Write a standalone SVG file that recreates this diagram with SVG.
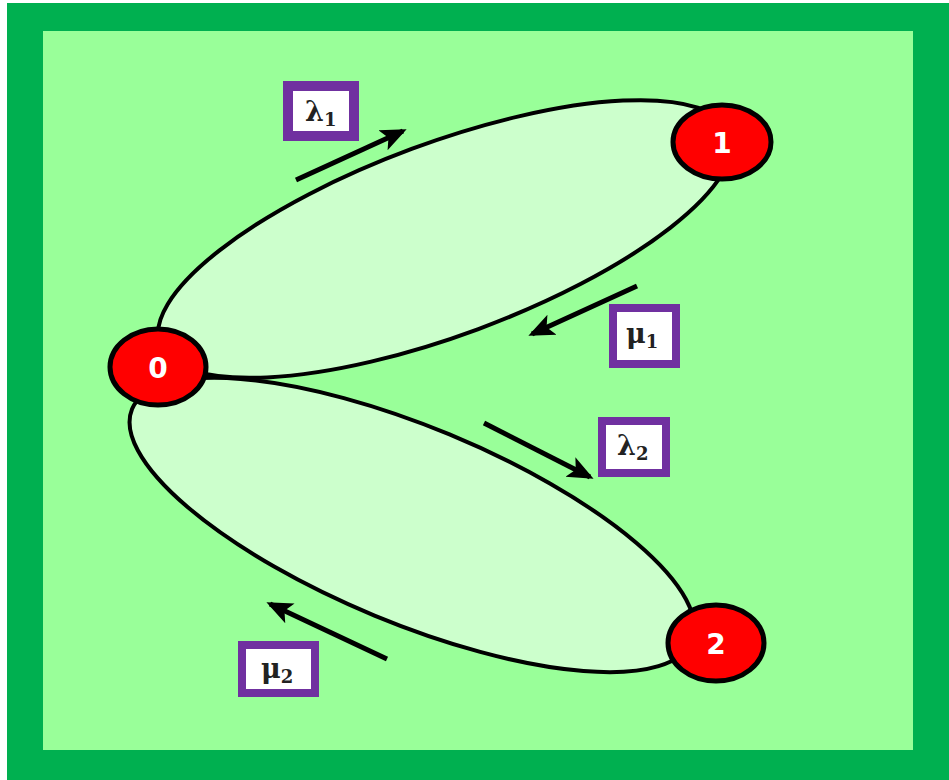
<svg xmlns="http://www.w3.org/2000/svg" width="949" height="780" viewBox="0 0 949 780">
<style>
.loop{fill:#CCFFCC;stroke:#000;stroke-width:4}
.node{fill:#FF0000;stroke:#000;stroke-width:5}
.nl{font-family:"DejaVu Sans",Verdana,sans-serif;font-weight:bold;font-size:28px;fill:#fff;text-anchor:middle}
.arr{stroke:#000;stroke-width:5;fill:none;marker-end:url(#ah)}
.box{fill:#fff;stroke:#7030A0;stroke-width:8}
.lt{font-family:"DejaVu Serif","Liberation Serif",serif;font-weight:bold;font-size:27px;fill:#222}
.sub{font-size:18px}
</style>
<defs>
<marker id="ah" markerUnits="userSpaceOnUse" markerWidth="28" markerHeight="24" refX="22" refY="12" orient="auto">
<path d="M0,1 L26,12 L0,23 L6,12 Z" fill="#000"/>
</marker>
</defs>
<rect x="7" y="3" width="942" height="777" fill="#00B050"/>
<rect x="43" y="31" width="870" height="719" fill="#99FF99"/>
<g id="loop1"><ellipse class="loop" cx="445" cy="239" rx="304" ry="96" transform="rotate(-20.35 445 239)"/></g>
<g id="loop2"><ellipse class="loop" cx="412" cy="525" rx="303" ry="98" transform="rotate(22.5 412 525)"/></g>
<g id="connectors">
<line class="arr" x1="296" y1="180" x2="403" y2="131"/>
<line class="arr" x1="637" y1="286" x2="532" y2="334"/>
<line class="arr" x1="484" y1="423" x2="590" y2="477"/>
<line class="arr" x1="387" y1="659" x2="270" y2="604"/>
</g>
<g id="node0"><ellipse class="node" cx="158" cy="367" rx="48" ry="38"/><text class="nl" x="158" y="378">0</text></g>
<g id="node1"><ellipse class="node" cx="722" cy="142" rx="49" ry="37"/><text class="nl" x="722" y="153">1</text></g>
<g id="node2"><ellipse class="node" cx="716" cy="643" rx="48" ry="38"/><text class="nl" x="716" y="654">2</text></g>
<g id="label-l1"><rect class="box" x="288" y="86" width="66" height="50" style="stroke-width:10"/><text class="lt" x="305" y="121">λ<tspan class="sub" dy="5">1</tspan></text></g>
<g id="label-m1"><rect class="box" x="613" y="308" width="63" height="56"/><text class="lt" x="626" y="343">μ<tspan class="sub" dy="5">1</tspan></text></g>
<g id="label-l2"><rect class="box" x="602" y="421" width="64" height="52"/><text class="lt" x="617" y="455">λ<tspan class="sub" dy="5">2</tspan></text></g>
<g id="label-m2"><rect class="box" x="242" y="645" width="73" height="48"/><text class="lt" x="261" y="678">μ<tspan class="sub" dy="5">2</tspan></text></g>
</svg>
